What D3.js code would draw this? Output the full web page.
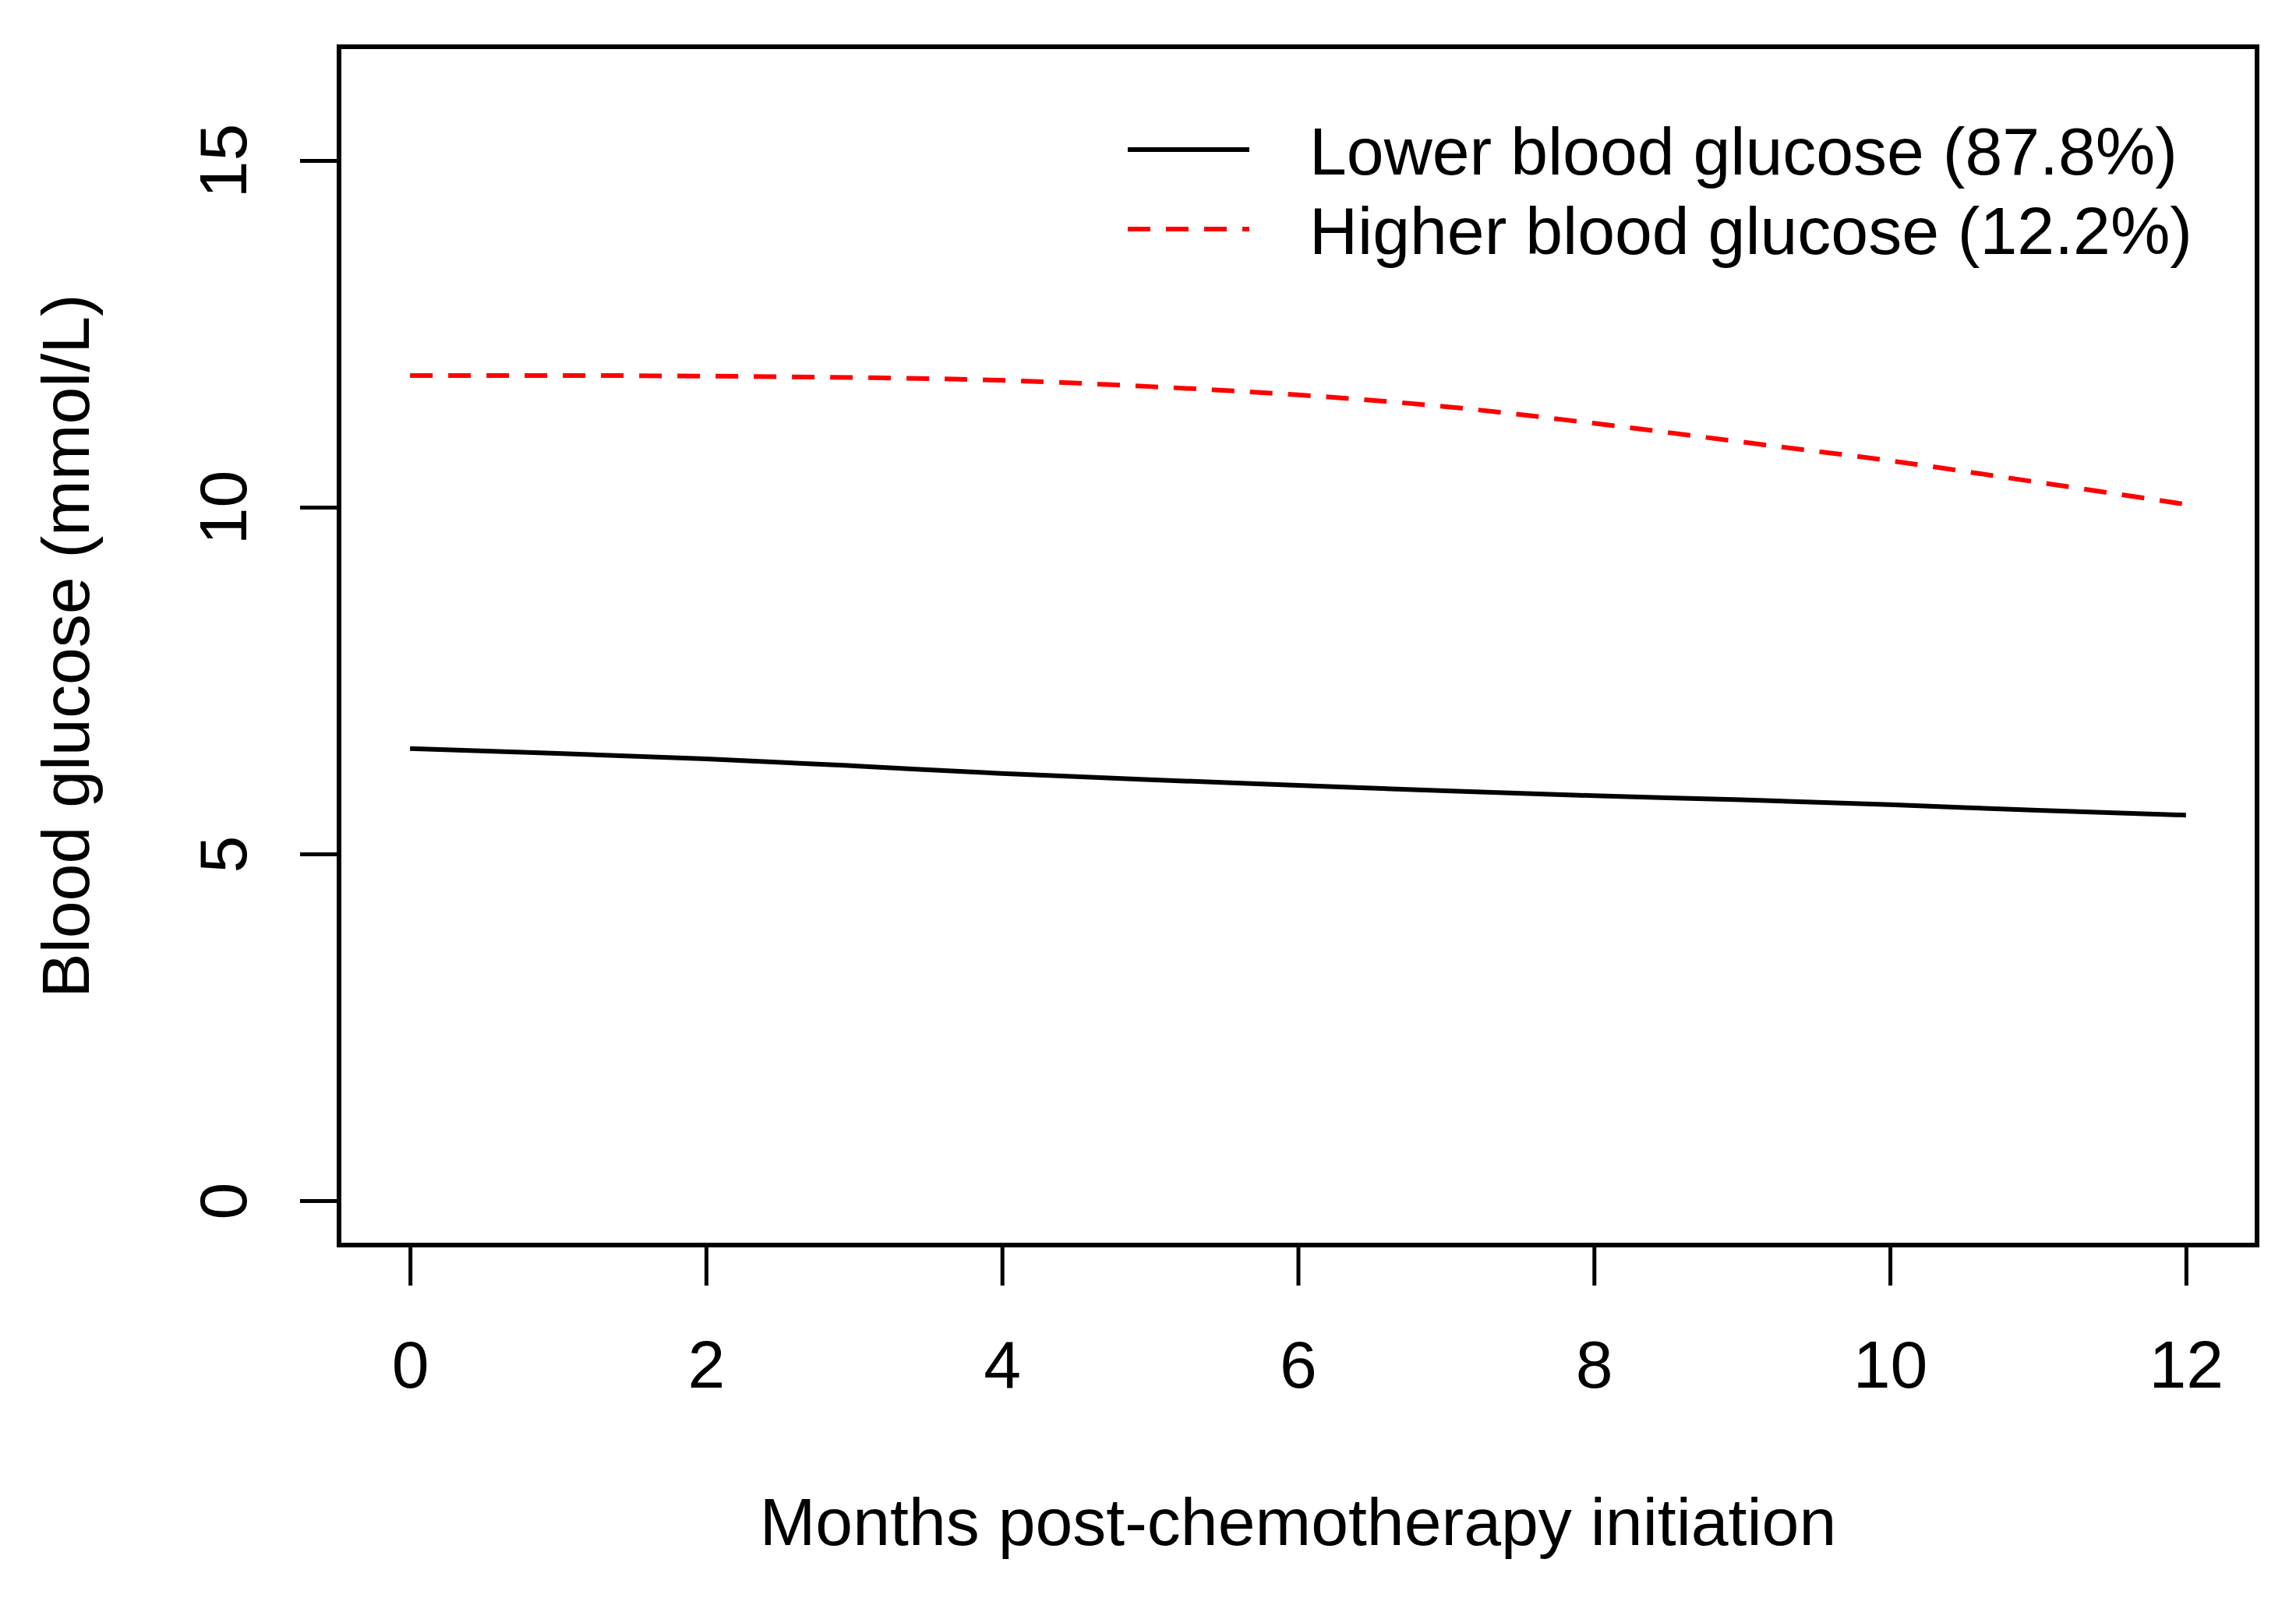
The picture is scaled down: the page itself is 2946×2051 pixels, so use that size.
<!DOCTYPE html>
<html>
<head>
<meta charset="utf-8">
<script src="https://cdn.jsdelivr.net/npm/d3@7"></script>
<style>
  body { margin: 0; background: #fff; }
  text { font-family: "Liberation Sans", Arial, sans-serif; fill: #000; }
</style>
</head>
<body>
<script>
// data
var months = [0, 1, 2, 3, 4, 5, 6, 7, 8, 9, 10, 11, 12];
var lowerGlucose  = [6.52, 6.45, 6.37, 6.27, 6.16, 6.07, 5.99, 5.91, 5.84, 5.78, 5.71, 5.63, 5.56];
var higherGlucose = [11.90, 11.90, 11.89, 11.87, 11.83, 11.74, 11.62, 11.45, 11.21, 10.94, 10.67, 10.36, 10.04];
var xTicks = [0, 2, 4, 6, 8, 10, 12];
var yTicks = [0, 5, 10, 15];
var legendLabels = ['Lower blood glucose (87.8%)', 'Higher blood glucose (12.2%)'];

var w = 2946;
var h = 2051;
var fontSize = 86;

var svg = d3.select('body')
    .append('svg')
    .attr('width', w)
    .attr('height', h);

svg.append('rect').attr('width', w).attr('height', h).attr('fill', '#fff');

// R style: 4% padding around the data range
var x = d3.scaleLinear().domain([-0.48, 12.48]).range([435, 2896]);
var y = d3.scaleLinear().domain([-0.64, 16.64]).range([1598, 60]);

// box
svg.append('rect')
    .attr('x', x.range()[0])
    .attr('y', y.range()[1])
    .attr('width', x.range()[1] - x.range()[0])
    .attr('height', y.range()[0] - y.range()[1])
    .attr('fill', 'none')
    .attr('stroke', '#000')
    .attr('stroke-width', 6);

// x axis
var xAxis = svg.append('g')
    .attr('transform', 'translate(0,' + y.range()[0] + ')')
    .call(d3.axisBottom(x).tickValues(xTicks).tickSize(52).tickPadding(70));
xAxis.select('.domain').remove();
xAxis.selectAll('line').attr('stroke-width', 5);
xAxis.selectAll('text')
    .attr('font-size', fontSize)
    .attr('font-family', '"Liberation Sans", Arial, sans-serif');

// y axis, labels parallel to axis
var yAxis = svg.append('g')
    .attr('transform', 'translate(' + x.range()[0] + ',0)')
    .call(d3.axisLeft(y).tickValues(yTicks).tickSize(50));
yAxis.select('.domain').remove();
yAxis.selectAll('line').attr('stroke-width', 5);
yAxis.selectAll('text')
    .attr('x', null)
    .attr('dy', null)
    .attr('transform', 'translate(-119,0) rotate(-90)')
    .attr('text-anchor', 'middle')
    .attr('font-size', fontSize)
    .attr('font-family', '"Liberation Sans", Arial, sans-serif');

// axis titles
svg.append('text')
    .text('Months post-chemotherapy initiation')
    .attr('x', (x.range()[0] + x.range()[1]) / 2)
    .attr('y', 1983)
    .attr('text-anchor', 'middle')
    .attr('font-size', fontSize);

svg.append('text')
    .text('Blood glucose (mmol/L)')
    .attr('transform', 'translate(114,' + (y.range()[0] + y.range()[1]) / 2 + ') rotate(-90)')
    .attr('text-anchor', 'middle')
    .attr('font-size', fontSize);

// lines
var line = d3.line()
    .x((d, i) => x(months[i]))
    .y(d => y(d))
    .curve(d3.curveMonotoneX);

svg.append('path')
    .attr('d', line(lowerGlucose))
    .attr('fill', 'none')
    .attr('stroke', '#000')
    .attr('stroke-width', 6);

svg.append('path')
    .attr('d', line(higherGlucose))
    .attr('fill', 'none')
    .attr('stroke', '#ff0000')
    .attr('stroke-width', 6)
    .attr('stroke-dasharray', '29,20');

// legend
var legendStyles = [
    {color: '#000', dash: null},
    {color: '#ff0000', dash: '29,20'}
];
var legend = svg.selectAll('g.legend')
    .data(legendLabels)
    .enter()
    .append('g')
    .attr('class', 'legend')
    .attr('transform', (d, i) => 'translate(0,' + (192 + i * 102) + ')');

legend.append('line')
    .attr('x1', 1447)
    .attr('x2', 1603)
    .attr('stroke', (d, i) => legendStyles[i].color)
    .attr('stroke-width', 6)
    .attr('stroke-dasharray', (d, i) => legendStyles[i].dash);

legend.append('text')
    .text(d => d)
    .attr('x', 1680)
    .attr('y', 32)
    .attr('font-size', fontSize);
</script>
</body>
</html>
